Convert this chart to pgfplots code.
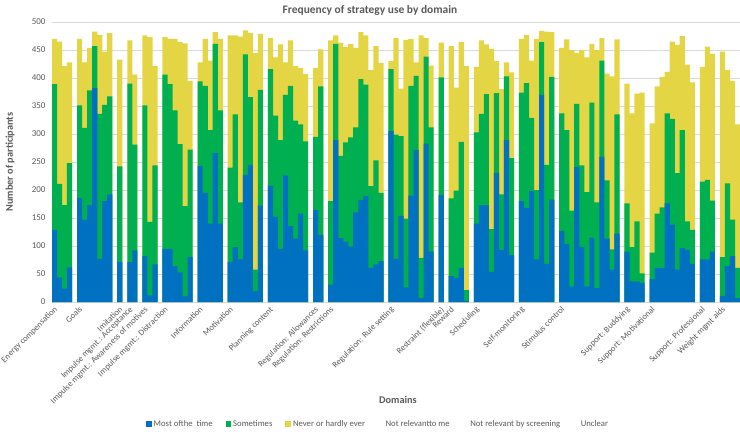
\documentclass[border=0pt]{standalone}
\usepackage{fontspec}
\setmainfont{Carlito}
\usepackage{pgfplots}
\usepackage{pgfplotstable}
\pgfplotsset{compat=1.18}
\definecolor{cblue}{HTML}{0070C0}
\definecolor{cgreen}{HTML}{00B050}
\definecolor{cyellow}{HTML}{E3D544}
\definecolor{txt}{HTML}{595959}
\definecolor{gridc}{HTML}{D9D9D9}
% x = slot, m = most of the time (top of blue), g = top of sometimes (green), y = top of never (yellow)
\pgfplotstableread{
x m g y
0 129 389 470
1 44 211 465
2 24 173 421
3 62 248 428
5 186 351 470
6 147 311 428
7 173 378 454
8 382 457 483
9 77 336 477
10 180 352 447
11 192 367 480
13 71 242 433
15 71 390 467
16 92 281 406
18 82 351 476
19 12 143 473
20 67 244 421
22 95 406 473
23 95 389 470
24 64 342 470
25 53 282 464
26 10 171 462
27 80 272 395
29 243 394 428
30 195 386 470
31 140 307 431
32 266 461 482
33 140 342 470
35 71 240 476
36 98 335 476
37 76 178 474
38 227 442 485
39 245 366 480
40 20 58 445
41 172 379 479
43 208 416 471
44 152 333 437
45 95 289 460
46 226 370 428
47 136 386 467
48 113 324 421
49 158 317 418
50 92 287 407
52 164 295 418
53 120 385 451
55 31 180 467
56 289 461 476
57 114 261 463
58 108 285 455
59 99 294 461
60 160 312 454
61 182 398 482
62 189 388 476
63 61 207 414
64 67 253 457
65 73 195 427
67 305 416 430
68 77 299 471
69 154 296 381
70 26 149 468
71 190 386 470
72 271 404 428
73 7 79 476
74 283 438 471
75 90 312 422
77 191 401 463
79 46 185 457
80 43 199 383
81 61 286 464
82 2 21 421
84 140 303 420
85 173 336 467
86 173 371 460
87 54 130 452
88 230 373 430
89 93 192 380
90 289 403 428
91 84 257 410
93 180 374 470
94 168 391 477
95 198 329 431
96 76 200 470
97 370 464 484
98 68 245 483
99 183 402 482
101 127 337 454
102 104 307 469
103 28 163 450
104 241 354 445
105 98 244 450
106 28 196 437
107 115 356 461
108 25 178 450
109 259 431 471
110 113 217 408
111 58 94 403
112 122 335 469
114 90 176 390
115 37 98 337
116 37 144 372
117 34 51 374
119 41 88 319
120 61 158 385
121 61 169 402
122 176 337 411
123 138 327 465
124 58 230 459
125 96 307 475
126 93 144 424
127 68 129 392
129 76 215 420
130 76 218 456
131 90 181 443
133 11 80 447
134 64 212 414
135 82 147 395
136 7 61 317
}\data
\begin{document}
\begin{tikzpicture}
\path[use as bounding box] (-52bp,-132bp) rectangle (688bp,302bp);
\begin{axis}[
  scale only axis, width=688bp, height=280bp,
  xmin=-0.5, xmax=136.5, ymin=0, ymax=500,
  ytick={0,50,...,500},
  xtick={0,5,13,15,18,22,29,35,43,52,55,67,77,79,84,93,101,114,119,129,133},
  xticklabels={{Energy compensation},{Goals},{Imitation},{Impulse mgmt.: Acceptance},{Impulse mgmt.: Awareness of motives},{Impulse mgmt.: Distraction},{Information},{Motivation},{Planning content},{Regulation: Allowances},{Regulation: Restrictions},{Regulation: Rule setting},{Restraint (flexible)},{Reward},{Scheduling},{Self-monitoring},{Stimulus control},{Support: Buddying},{Support: Motivational},{Support: Professional},{Weight mgmt aids}},
  xticklabel style={xshift=-1bp, yshift=-3.5bp, rotate=45, anchor=north east, font=\fontsize{8.6}{10}\selectfont, text=txt, inner sep=0pt},
  yticklabel style={font=\fontsize{9}{10}\selectfont, text=txt, xshift=-3bp},
  ymajorgrids, major grid style={draw=gridc, line width=0.7bp},
  axis line style={draw=none},
  major tick length=0pt,
  /pgf/number format/assume math mode=true,
  legend style={at={(0.474,-0.436)}, anchor=center, draw=none, fill=none,
    legend columns=6, font=\fontsize{8.7}{10}\selectfont, text=txt,
    /tikz/every even column/.append style={column sep=11bp}},
  legend image code/.code={\path[#1, draw=none] (0bp,-2.8bp) rectangle (5.6bp,2.8bp);},
  legend cell align=left,
]
\addlegendimage{fill=cblue}\addlegendentry{Most ofthe\ \ time}
\addlegendimage{fill=cgreen}\addlegendentry{Sometimes}
\addlegendimage{fill=cyellow}\addlegendentry{Never or hardly ever}
\addlegendimage{fill=none}\addlegendentry{Not relevantto me}
\addlegendimage{fill=none}\addlegendentry{Not relevant by screening}
\addlegendimage{fill=none}\addlegendentry{Unclear}
\addplot[ybar, bar width=1.03, bar shift=0pt, fill=cyellow, draw=none, forget plot] table[x=x, y=y]{\data};
\addplot[ybar, bar width=1.03, bar shift=0pt, fill=cgreen, draw=none, forget plot] table[x=x, y=g]{\data};
\addplot[ybar, bar width=1.03, bar shift=0pt, fill=cblue, draw=none, forget plot] table[x=x, y=m]{\data};
\end{axis}
\node[font=\bfseries\fontsize{11.5}{13}\selectfont, text=txt] at (318bp,292bp) {Frequency of strategy use by domain};
\node[font=\bfseries\fontsize{10.3}{12}\selectfont, text=txt] at (346bp,-98bp) {Domains};
\node[font=\bfseries\fontsize{10.3}{12}\selectfont, text=txt, rotate=90] at (-42bp,140bp) {Number of participants};
\end{tikzpicture}
\end{document}
